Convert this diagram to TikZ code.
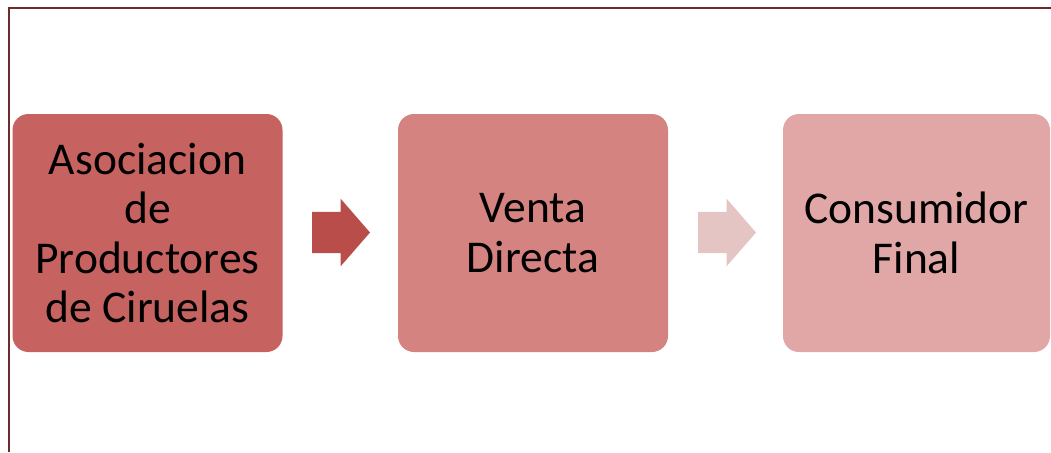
\documentclass[tikz,border=0pt]{standalone}
\usepackage{fontspec}
\setmainfont{Carlito}
\usepackage{tikz}
\usetikzlibrary{positioning,shapes.arrows}
\definecolor{frameline}{HTML}{6E2B2B}
\definecolor{stageone}{HTML}{C6625F}
\definecolor{stagetwo}{HTML}{D58381}
\definecolor{stagethree}{HTML}{E0A7A6}
\definecolor{flowone}{HTML}{B94D4A}
\definecolor{flowtwo}{HTML}{E5C4C4}
\tikzset{stagebox/.style={draw=none,rounded corners=16pt,minimum width=270pt,
		minimum height=238pt,align=center,inner sep=0pt,
		font=\fontsize{45.5}{49.5}\selectfont},
	flowarrow/.style={single arrow,draw=none,minimum height=58pt,inner sep=0pt,
		text width=0pt,text height=20.5pt,text depth=20.5pt,
		single arrow head extend=13pt,single arrow tip angle=98}}

\begin{document}
\begin{tikzpicture}
	[x=1pt,y=-1pt]
	\useasboundingbox (0,0) rectangle (1051,452);
	\draw [frameline,line width=2pt] (8.5,452) -- (8.5,8.5) -- (1051,8.5);
	\node [stagebox,fill=stageone] (asoc) at (147.5,233) {Asociacion\\de\\Productores\\de Ciruelas};
	\node [stagebox,fill=stagetwo] (venta) at (533,233) {Venta\\Directa};
	\node [stagebox,fill=stagethree,minimum width=267pt] (consum) at (916.5,233) {Consumidor\\Final};
	\node [flowarrow,fill=flowone] (flow1) at (332,232.5) {};
	\node [flowarrow,fill=flowtwo] (flow2) at (718,232.5) {};
\end{tikzpicture}
\end{document}
